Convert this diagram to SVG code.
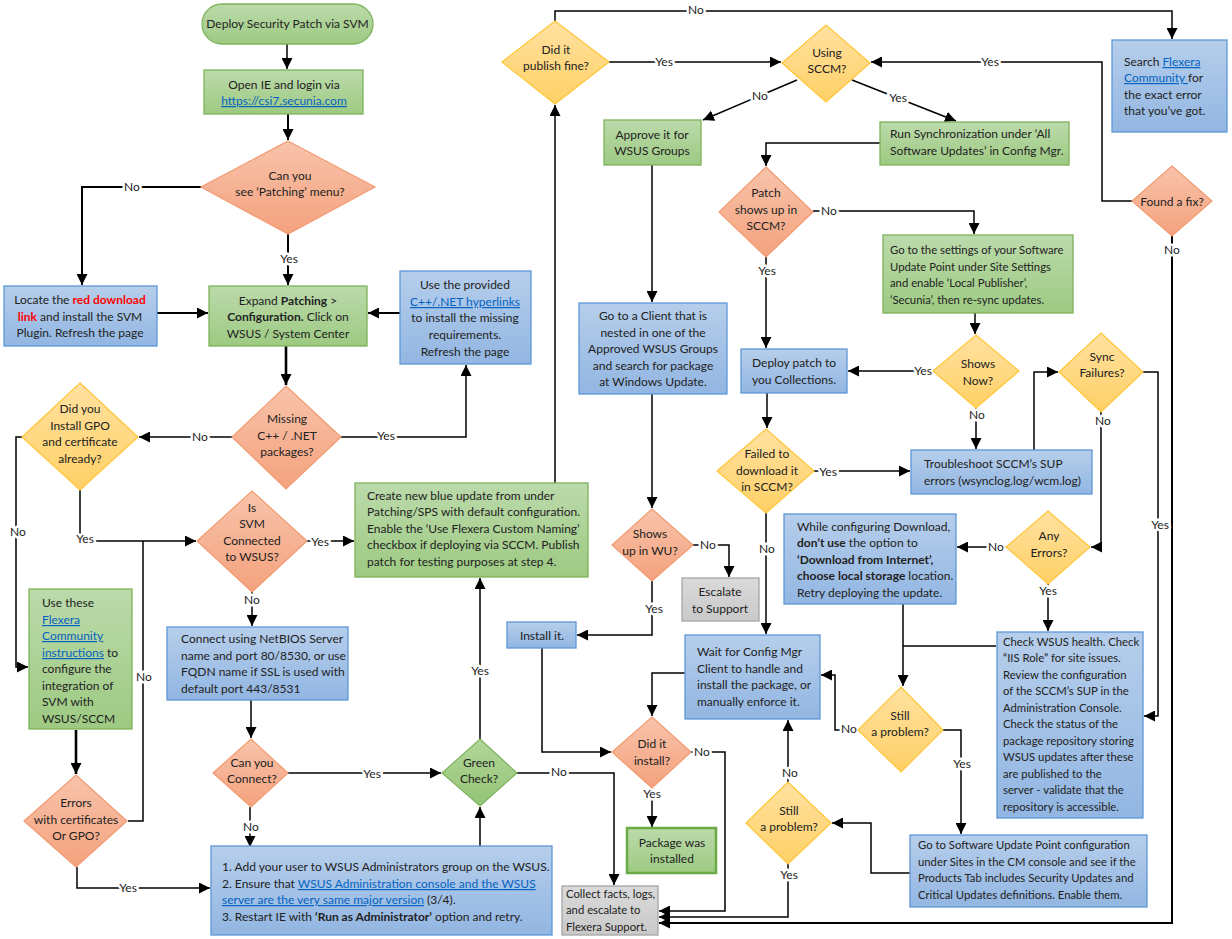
<svg xmlns="http://www.w3.org/2000/svg" width="1232" height="939" viewBox="0 0 1232 939">
<defs>
<linearGradient id="gG" x1="0" y1="0" x2="0" y2="1"><stop offset="0" stop-color="#bcdaab"/><stop offset="1" stop-color="#9dca82"/></linearGradient>
<linearGradient id="gB" x1="0" y1="0" x2="0" y2="1"><stop offset="0" stop-color="#b6ceeb"/><stop offset="1" stop-color="#92b6e2"/></linearGradient>
<linearGradient id="gO" x1="0" y1="0" x2="0" y2="1"><stop offset="0" stop-color="#f8c3ab"/><stop offset="1" stop-color="#f4a27d"/></linearGradient>
<linearGradient id="gY" x1="0" y1="0" x2="0" y2="1"><stop offset="0" stop-color="#ffe1a0"/><stop offset="1" stop-color="#ffd066"/></linearGradient>
<linearGradient id="gGd" x1="0" y1="0" x2="0" y2="1"><stop offset="0" stop-color="#b3d699"/><stop offset="1" stop-color="#93c476"/></linearGradient>
<linearGradient id="gGr" x1="0" y1="0" x2="0" y2="1"><stop offset="0" stop-color="#dadada"/><stop offset="1" stop-color="#c9c9c9"/></linearGradient>
<marker id="ar" markerUnits="userSpaceOnUse" markerWidth="11" markerHeight="11" viewBox="0 0 10 10" refX="10" refY="5" orient="auto"><path d="M0,0 L10,5 L0,10 z" fill="#000"/></marker>
</defs>
<style>
text{font-family:Lato,"Open Sans","Liberation Sans",sans-serif;font-size:12px;fill:#222}
.s{font-size:11.3px}
.c{text-anchor:middle}
.lk{fill:#0563c1;text-decoration:underline}
.rd{fill:#ff0000;font-weight:bold}
.b{font-weight:bold}
.gb{fill:url(#gG);stroke:#7cb35a;stroke-width:1.3}
.pk{fill:url(#gG);stroke:#6aab45;stroke-width:2.5}
.bb{fill:url(#gB);stroke:#5e97d6;stroke-width:1.3}
.gr{fill:url(#gGr);stroke:#a5a5a5;stroke-width:1.3}
.od{fill:url(#gO);stroke:#f39b72;stroke-width:1.2}
.yd{fill:url(#gY);stroke:#ffc637;stroke-width:1.2}
.gd{fill:url(#gGd);stroke:#7fb35f;stroke-width:1.2}
.ln{fill:none;stroke:#000;stroke-width:1.5}
.ar{marker-end:url(#ar)}
.tk{stroke-width:2.6}
.md{stroke-width:2}
.lbl{text-anchor:middle;paint-order:stroke;stroke:#fff;stroke-width:5px;stroke-linejoin:round}
</style>

<g id="connectors">
<path class="ln ar" d="M287,44 V69"/>
<path class="ln ar md" d="M288,114 V140"/>
<path class="ln ar md" d="M201,187 H82 V285"/>
<path class="ln ar md" d="M288,234 V285"/>
<path class="ln ar md" d="M157,313 H208"/>
<path class="ln ar md" d="M400,313 H368"/>
<path class="ln ar tk" d="M286,346 V385"/>
<path class="ln ar" d="M341,437 H466 V365"/>
<path class="ln ar" d="M232,437 H139"/>
<path class="ln ar" d="M22,437 H16 V667 H28"/>
<path class="ln ar" d="M80,490 V541 H196"/>
<path class="ln" d="M128,821 H143 V541"/>
<path class="ln ar tk" d="M76,730 V774"/>
<path class="ln ar" d="M77,867 V888 H210"/>
<path class="ln ar" d="M307,541 H354"/>
<path class="ln ar" d="M252,592 V626"/>
<path class="ln ar" d="M251,700 V738"/>
<path class="ln ar" d="M288,773 H441"/>
<path class="ln ar" d="M250,807 V847"/>
<path class="ln ar" d="M480,846 V807"/>
<path class="ln ar" d="M480,739 V578"/>
<path class="ln ar" d="M517,773 H614 V885"/>
<path class="ln ar" d="M555,483 V105"/>
<path class="ln ar" d="M555,21 V11 H1172 V39"/>
<path class="ln ar" d="M609,62 H781"/>
<path class="ln ar" d="M1132,201 H1102 V62 H871"/>
<path class="ln ar" d="M797,80 L703,120"/>
<path class="ln ar" d="M852,80 L956,121"/>
<path class="ln ar" d="M652,165 V302"/>
<path class="ln ar" d="M880,143 H766 V166"/>
<path class="ln ar" d="M766,257 V348"/>
<path class="ln ar" d="M813,211 H974 V234"/>
<path class="ln ar" d="M975,313 V334"/>
<path class="ln ar" d="M933,371 H848"/>
<path class="ln ar" d="M976,408 V449"/>
<path class="ln ar" d="M767,393 V428"/>
<path class="ln ar" d="M814,471 H910"/>
<path class="ln ar" d="M766,513 V634"/>
<path class="ln ar" d="M1034,450 V372 H1058"/>
<path class="ln ar" d="M1101,412 V547 H1091"/>
<path class="ln ar" d="M1143,372 H1158 V716 H1144"/>
<path class="ln ar" d="M1006,547 H957"/>
<path class="ln ar" d="M1048,584 V631"/>
<path class="ln ar" d="M903,604 V686"/>
<path class="ln" d="M996,646 H903"/>
<path class="ln ar" d="M858,730 H835 V675 H821"/>
<path class="ln ar" d="M943,730 H961 V834"/>
<path class="ln ar" d="M910,873 H871 V823 H832"/>
<path class="ln ar" d="M788,782 V720"/>
<path class="ln ar" d="M788,864 V917 H659"/>
<path class="ln ar" d="M685,673 H652 V716"/>
<path class="ln ar" d="M693,545 H729 V577"/>
<path class="ln ar" d="M652,581 V635 H577"/>
<path class="ln ar" d="M542,648 V752 H611"/>
<path class="ln ar" d="M652,788 V827"/>
<path class="ln ar" d="M691,752 H725 V911 H659"/>
<path class="ln ar md" d="M1172,236 V923 H659"/>
<path class="ln ar" d="M652,394 V508"/>
<text class="lbl" x="132" y="191">No</text>
<text class="lbl" x="289" y="263">Yes</text>
<text class="lbl" x="386" y="440">Yes</text>
<text class="lbl" x="200" y="441">No</text>
<text class="lbl" x="18" y="536">No</text>
<text class="lbl" x="85" y="543">Yes</text>
<text class="lbl" x="144" y="681">No</text>
<text class="lbl" x="128" y="892">Yes</text>
<text class="lbl" x="320" y="546">Yes</text>
<text class="lbl" x="252" y="604">No</text>
<text class="lbl" x="372" y="778">Yes</text>
<text class="lbl" x="251" y="831">No</text>
<text class="lbl" x="480" y="675">Yes</text>
<text class="lbl" x="559" y="776">No</text>
<text class="lbl" x="696" y="14">No</text>
<text class="lbl" x="664" y="66">Yes</text>
<text class="lbl" x="990" y="66">Yes</text>
<text class="lbl" x="760" y="100">No</text>
<text class="lbl" x="898" y="102">Yes</text>
<text class="lbl" x="767" y="275">Yes</text>
<text class="lbl" x="829" y="215">No</text>
<text class="lbl" x="923" y="375">Yes</text>
<text class="lbl" x="977" y="419">No</text>
<text class="lbl" x="828" y="476">Yes</text>
<text class="lbl" x="767" y="553">No</text>
<text class="lbl" x="1103" y="425">No</text>
<text class="lbl" x="1160" y="529">Yes</text>
<text class="lbl" x="996" y="551">No</text>
<text class="lbl" x="1048" y="595">Yes</text>
<text class="lbl" x="849" y="733">No</text>
<text class="lbl" x="962" y="768">Yes</text>
<text class="lbl" x="790" y="777">No</text>
<text class="lbl" x="789" y="879">Yes</text>
<text class="lbl" x="708" y="549">No</text>
<text class="lbl" x="654" y="613">Yes</text>
<text class="lbl" x="652" y="798">Yes</text>
<text class="lbl" x="702" y="756">No</text>
<text class="lbl" x="1172" y="254">No</text>
</g>

<g id="n-start"><rect class="gb" x="202" y="4" width="171" height="40" rx="20"/><text class="c" x="287.5" y="28">Deploy Security Patch via SVM</text></g>
<g id="n-open"><rect class="gb" x="204" y="70" width="159" height="44"/><text class="c"><tspan x="284" y="89">Open IE and login via</tspan><tspan x="284" y="105" class="lk">https://csi7.secunia.com</tspan></text></g>
<g id="n-patching"><polygon class="od" points="288,141 375,187 288,234 201,187"/><text class="c"><tspan x="290" y="180">Can you</tspan><tspan x="290" y="196">see ‘Patching’ menu?</tspan></text></g>
<g id="n-locate"><rect class="bb" x="4" y="286" width="153" height="60"/><text class="c"><tspan x="80" y="304">Locate the <tspan class="rd">red download</tspan></tspan><tspan x="80" y="321"><tspan class="rd">link</tspan> and install the SVM</tspan><tspan x="80" y="337">Plugin. Refresh the page</tspan></text></g>
<g id="n-expand"><rect class="gb" x="209" y="286" width="158" height="60"/><text class="c"><tspan x="288" y="305">Expand <tspan class="b">Patching</tspan> &gt;</tspan><tspan x="288" y="321"><tspan class="b">Configuration.</tspan> Click on</tspan><tspan x="288" y="338">WSUS / System Center</tspan></text></g>
<g id="n-provided"><rect class="bb" x="400" y="271" width="131" height="93"/><text class="c"><tspan x="465" y="289">Use the provided</tspan><tspan x="465" y="306" class="lk">C++/.NET hyperlinks</tspan><tspan x="465" y="322">to install the missing</tspan><tspan x="465" y="339">requirements.</tspan><tspan x="465" y="356">Refresh the page</tspan></text></g>
<g id="n-missing"><polygon class="od" points="286,386 341,437 286,489 232,437"/><text class="c"><tspan x="287" y="423">Missing</tspan><tspan x="287" y="440">C++ / .NET</tspan><tspan x="287" y="456">packages?</tspan></text></g>
<g id="n-gpo"><polygon class="yd" points="80,383 138,437 80,490 22,437"/><text class="c"><tspan x="80" y="413">Did you</tspan><tspan x="80" y="430">Install GPO</tspan><tspan x="80" y="446">and certificate</tspan><tspan x="80" y="463">already?</tspan></text></g>
<g id="n-issvm"><polygon class="od" points="252,491 307,541 252,592 197,541"/><text class="c"><tspan x="252" y="512">Is</tspan><tspan x="252" y="528">SVM</tspan><tspan x="252" y="545">Connected</tspan><tspan x="252" y="561">to WSUS?</tspan></text></g>
<g id="n-create"><rect class="gb" x="355" y="483" width="233" height="94"/><text><tspan x="367" y="500">Create new blue update from under</tspan><tspan x="367" y="516">Patching/SPS with default configuration.</tspan><tspan x="367" y="533">Enable the ‘Use Flexera Custom Naming’</tspan><tspan x="367" y="549">checkbox if deploying via SCCM. Publish</tspan><tspan x="367" y="566">patch for testing purposes at step 4.</tspan></text></g>
<g id="n-usethese"><rect class="gb" x="29" y="589" width="103" height="140"/><text><tspan x="42" y="607">Use these</tspan><tspan x="42" y="624" class="lk">Flexera</tspan><tspan x="42" y="640" class="lk">Community</tspan><tspan x="42" y="657"><tspan class="lk">instructions</tspan> to</tspan><tspan x="42" y="673">configure the</tspan><tspan x="42" y="690">integration  of</tspan><tspan x="42" y="706">SVM with</tspan><tspan x="42" y="723">WSUS/SCCM</tspan></text></g>
<g id="n-errors"><polygon class="od" points="76,775 127,821 76,867 24,821"/><text class="c"><tspan x="76" y="807">Errors</tspan><tspan x="76" y="824">with certificates</tspan><tspan x="76" y="840">Or GPO?</tspan></text></g>
<g id="n-connect"><rect class="bb" x="167" y="627" width="181" height="73"/><text><tspan x="181" y="643">Connect using NetBIOS Server</tspan><tspan x="181" y="660">name and port 80/8530, or use</tspan><tspan x="181" y="676">FQDN name if SSL is used with</tspan><tspan x="181" y="693">default port 443/8531</tspan></text></g>
<g id="n-canconnect"><polygon class="od" points="251,739 288,773 251,807 213,773"/><text class="c"><tspan x="252" y="767">Can you</tspan><tspan x="252" y="783">Connect?</tspan></text></g>
<g id="n-steps"><rect class="bb" x="211" y="846" width="341" height="89"/><text><tspan x="222" y="871">1. Add your user to WSUS Administrators group on the WSUS.</tspan><tspan x="222" y="888">2. Ensure that <tspan class="lk">WSUS Administration console and the WSUS</tspan></tspan><tspan x="222" y="904"><tspan class="lk">server are the very same major version</tspan> (3/4).</tspan><tspan x="222" y="921">3. Restart IE with <tspan class="b">‘Run as Administrator’</tspan> option and retry.</tspan></text></g>
<g id="n-green"><polygon class="gd" points="480,739 517,773 480,806 442,773"/><text class="c"><tspan x="479" y="767">Green</tspan><tspan x="479" y="783">Check?</tspan></text></g>
<g id="n-publish"><polygon class="yd" points="555,21 609,62 555,104 502,62"/><text class="c"><tspan x="556" y="54">Did it</tspan><tspan x="556" y="70">publish fine?</tspan></text></g>
<g id="n-sccm"><polygon class="yd" points="826,25 870,63 826,102 782,63"/><text class="c"><tspan x="827" y="57">Using</tspan><tspan x="827" y="73">SCCM?</tspan></text></g>
<g id="n-approve"><rect class="gb" x="604" y="120" width="97" height="45"/><text class="c"><tspan x="652" y="139">Approve it for</tspan><tspan x="652" y="155">WSUS Groups</tspan></text></g>
<g id="n-runsync"><rect class="gb" x="880" y="122" width="189" height="43"/><text><tspan x="890" y="138">Run Synchronization under ‘All</tspan><tspan x="890" y="155">Software Updates’ in Config Mgr.</tspan></text></g>
<g id="n-patchshows"><polygon class="od" points="766,167 813,212 766,257 719,212"/><text class="c"><tspan x="766" y="197">Patch</tspan><tspan x="766" y="214">shows up in</tspan><tspan x="766" y="230">SCCM?</tspan></text></g>
<g id="n-settings"><rect class="gb" x="883" y="235" width="190" height="78"/><text class="s"><tspan x="890" y="254">Go to the settings of your Software</tspan><tspan x="890" y="271">Update Point under Site Settings</tspan><tspan x="890" y="287">and enable ‘Local Publisher’,</tspan><tspan x="890" y="304">‘Secunia’, then re-sync updates.</tspan></text></g>
<g id="n-showsnow"><polygon class="yd" points="976,335 1019,371 976,408 933,371"/><text class="c"><tspan x="978" y="368">Shows</tspan><tspan x="978" y="385">Now?</tspan></text></g>
<g id="n-deploy"><rect class="bb" x="741" y="349" width="106" height="44"/><text class="c"><tspan x="794" y="367">Deploy patch to</tspan><tspan x="794" y="384">you Collections.</tspan></text></g>
<g id="n-failed"><polygon class="yd" points="766,429 814,471 766,513 717,471"/><text class="c"><tspan x="767" y="458">Failed to</tspan><tspan x="767" y="475">download it</tspan><tspan x="767" y="491">in SCCM?</tspan></text></g>
<g id="n-troubleshoot"><rect class="bb" x="911" y="450" width="181" height="44"/><text><tspan x="924" y="468">Troubleshoot SCCM’s SUP</tspan><tspan x="924" y="485">errors (wsynclog.log/wcm.log)</tspan></text></g>
<g id="n-syncfail"><polygon class="yd" points="1101,333 1143,372 1101,412 1059,372"/><text class="c"><tspan x="1102" y="361">Sync</tspan><tspan x="1102" y="377">Failures?</tspan></text></g>
<g id="n-anyerrors"><polygon class="yd" points="1048,511 1090,547 1048,584 1006,547"/><text class="c"><tspan x="1049" y="540">Any</tspan><tspan x="1049" y="557">Errors?</tspan></text></g>
<g id="n-while"><rect class="bb" x="784" y="514" width="172" height="90"/><text><tspan x="797" y="531">While configuring Download,</tspan><tspan x="797" y="547"><tspan class="b">don’t use</tspan> the option to</tspan><tspan x="797" y="564" class="b">‘Download from Internet’,</tspan><tspan x="797" y="580"><tspan class="b">choose local storage</tspan> location.</tspan><tspan x="797" y="597">Retry deploying the update.</tspan></text></g>
<g id="n-still1"><polygon class="yd" points="901,687 943,730 901,772 858,730"/><text class="c"><tspan x="900" y="720">Still</tspan><tspan x="900" y="736">a problem?</tspan></text></g>
<g id="n-checkwsus"><rect class="bb" x="997" y="632" width="146" height="186"/><text class="s"><tspan x="1003" y="646">Check WSUS health. Check</tspan><tspan x="1003" y="662">“IIS Role” for site issues.</tspan><tspan x="1003" y="679">Review the configuration</tspan><tspan x="1003" y="695">of the SCCM’s SUP in the</tspan><tspan x="1003" y="712">Administration Console.</tspan><tspan x="1003" y="728">Check the status of the</tspan><tspan x="1003" y="745">package repository storing</tspan><tspan x="1003" y="761">WSUS updates after these</tspan><tspan x="1003" y="778">are published to the</tspan><tspan x="1003" y="794">server -  validate that the</tspan><tspan x="1003" y="811">repository is accessible.</tspan></text></g>
<g id="n-gotosup"><rect class="bb" x="910" y="835" width="237" height="72"/><text class="s"><tspan x="918" y="849">Go to Software Update Point configuration</tspan><tspan x="918" y="866">under Sites in the CM console and see if the</tspan><tspan x="918" y="882">Products Tab includes Security Updates and</tspan><tspan x="918" y="899">Critical Updates definitions. Enable them.</tspan></text></g>
<g id="n-still2"><polygon class="yd" points="788,782 831,823 788,864 746,823"/><text class="c"><tspan x="789" y="815">Still</tspan><tspan x="789" y="831">a problem?</tspan></text></g>
<g id="n-wait"><rect class="bb" x="685" y="635" width="135" height="84"/><text><tspan x="697" y="656">Wait for Config Mgr</tspan><tspan x="697" y="673">Client to handle and</tspan><tspan x="697" y="689">install the package, or</tspan><tspan x="697" y="706">manually enforce it.</tspan></text></g>
<g id="n-client"><rect class="bb" x="579" y="303" width="148" height="91"/><text class="c"><tspan x="653" y="320">Go to a Client that is</tspan><tspan x="653" y="337">nested in one of the</tspan><tspan x="653" y="353">Approved WSUS Groups</tspan><tspan x="653" y="370">and search for package</tspan><tspan x="653" y="386">at Windows Update.</tspan></text></g>
<g id="n-showswu"><polygon class="od" points="652,509 693,545 652,581 612,545"/><text class="c"><tspan x="650" y="538">Shows</tspan><tspan x="650" y="555">up in WU?</tspan></text></g>
<g id="n-escalate"><rect class="gr" x="682" y="578" width="77" height="43"/><text class="c"><tspan x="720" y="596">Escalate</tspan><tspan x="720" y="613">to Support</tspan></text></g>
<g id="n-installit"><rect class="bb" x="507" y="622" width="69" height="26"/><text class="c" x="542" y="640">Install it.</text></g>
<g id="n-didinstall"><polygon class="od" points="652,717 691,752 652,788 612,752"/><text class="c"><tspan x="652" y="748">Did it</tspan><tspan x="652" y="765">install?</tspan></text></g>
<g id="n-package"><rect class="pk" x="627" y="828" width="89" height="45"/><text class="c"><tspan x="672" y="847">Package was</tspan><tspan x="672" y="863">installed</tspan></text></g>
<g id="n-collect"><rect class="gr" x="562" y="886" width="96" height="49"/><text class="s"><tspan x="566" y="898">Collect facts, logs,</tspan><tspan x="566" y="914">and escalate to</tspan><tspan x="566" y="931">Flexera Support.</tspan></text></g>
<g id="n-search"><rect class="bb" x="1112" y="40" width="115" height="92"/><text><tspan x="1124" y="66">Search <tspan class="lk">Flexera</tspan></tspan><tspan x="1124" y="82"><tspan class="lk">Community </tspan>for</tspan><tspan x="1124" y="99">the exact error</tspan><tspan x="1124" y="115">that you’ve got.</tspan></text></g>
<g id="n-foundfix"><polygon class="od" points="1172,166 1212,201 1172,236 1132,201"/><text class="c" x="1172" y="206">Found a fix?</text></g>
</svg>
